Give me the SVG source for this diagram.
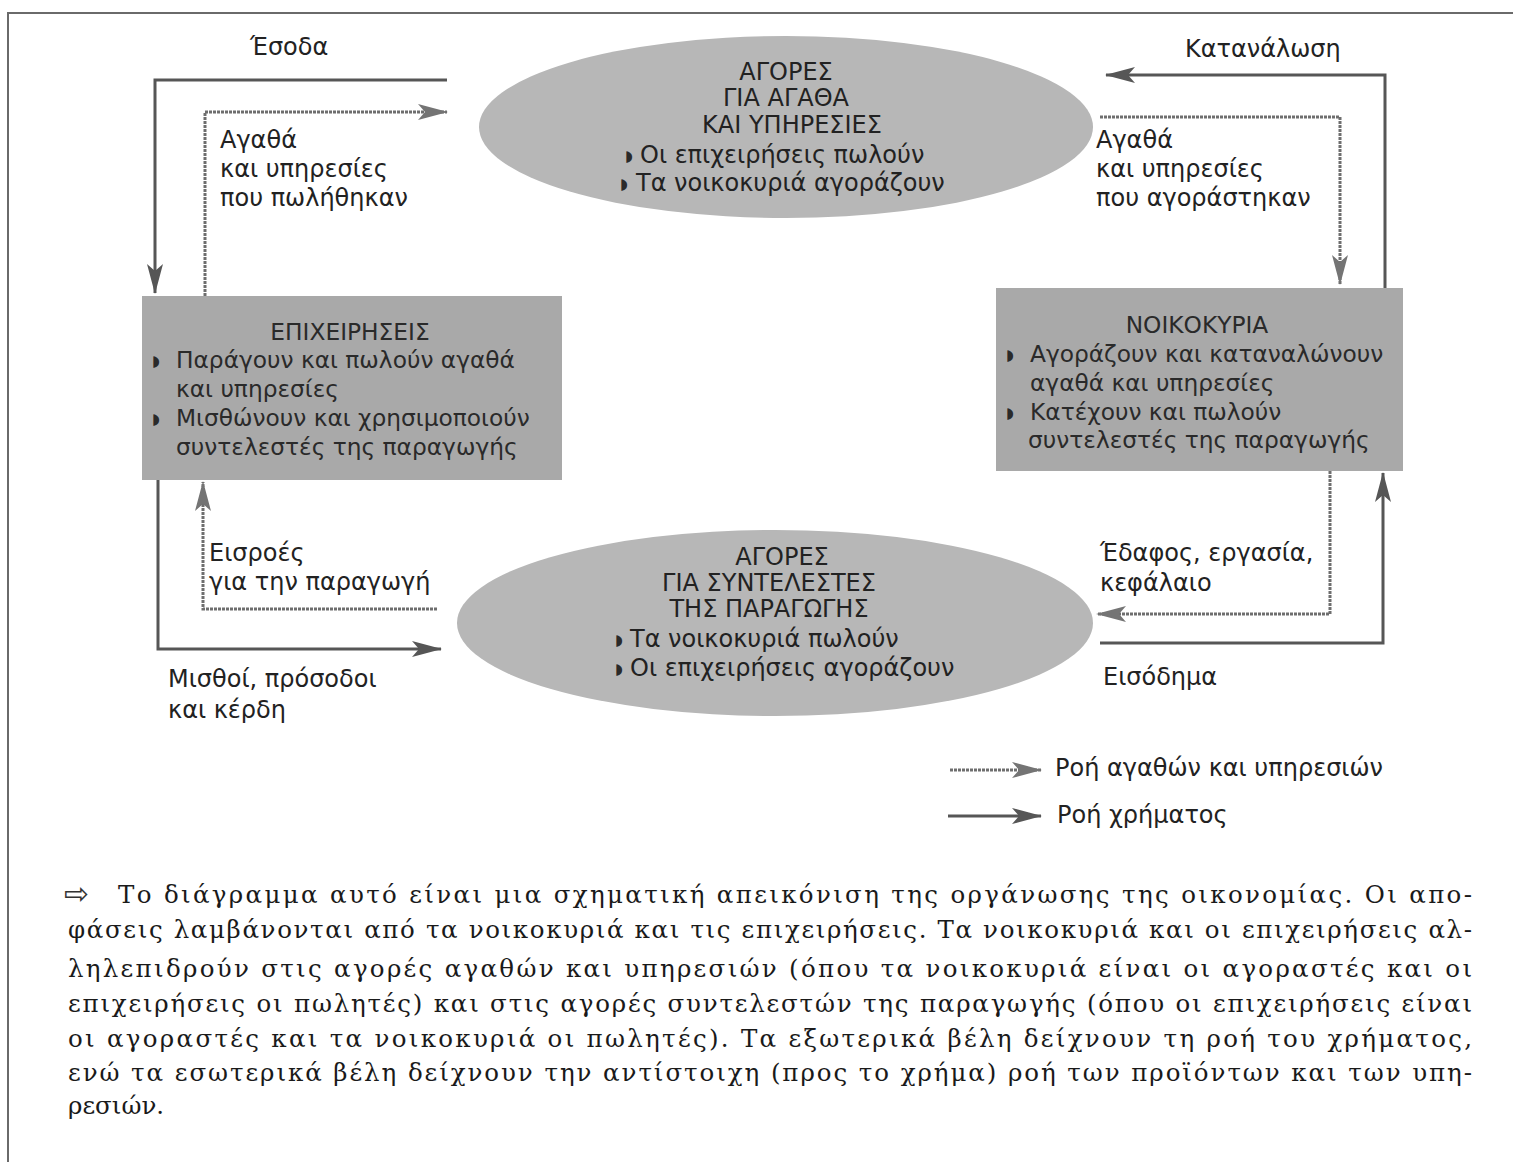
<svg xmlns="http://www.w3.org/2000/svg" width="1513" height="1162" viewBox="0 0 1513 1162">
<defs>
<marker id="mArrow" markerUnits="userSpaceOnUse" viewBox="0 0 30 16" refX="29" refY="8" markerWidth="30" markerHeight="16" orient="auto">
<path d="M0,0 L30,8 L0,16 L7,8 z" fill="#565656"/>
</marker>
<marker id="gArrow" markerUnits="userSpaceOnUse" viewBox="0 0 30 16" refX="29" refY="8" markerWidth="30" markerHeight="16" orient="auto">
<path d="M0,0 L30,8 L0,16 L7,8 z" fill="#747474"/>
</marker>
</defs>
<style>
.t{font-family:"DejaVu Sans","Liberation Sans",sans-serif;font-size:24px;fill:#222}
.e{font-family:"DejaVu Sans","Liberation Sans",sans-serif;font-size:24px;fill:#222}
.b{font-family:"DejaVu Sans","Liberation Sans",sans-serif;font-size:23.3px;fill:#2a2a2a}
.bul{font-family:"DejaVu Sans",sans-serif;font-size:15px;fill:#2a2a2a}
.cap{font-family:"DejaVu Serif","Liberation Serif",serif;font-size:24.5px;fill:#1a1a1a}
.money{fill:none;stroke:#565656;stroke-width:3;marker-end:url(#mArrow)}
.goods{fill:none;stroke:#6e6e6e;stroke-width:3;stroke-dasharray:3 1;marker-end:url(#gArrow)}
.ell{fill:#b7b7b7}
.box{fill:#a9a9a9}
</style>
<rect width="1513" height="1162" fill="#ffffff"/>
<path d="M8,1162 V13 H1513" fill="none" stroke="#6a6a6a" stroke-width="2"/>

<g id="markets-goods">
<ellipse class="ell" cx="786" cy="127" rx="307" ry="91"/>
<text class="e" x="786" y="80" text-anchor="middle">ΑΓΟΡΕΣ</text>
<text class="e" x="786" y="106" text-anchor="middle">ΓΙΑ ΑΓΑΘΑ</text>
<text class="e" x="792" y="133" text-anchor="middle">ΚΑΙ ΥΠΗΡΕΣΙΕΣ</text>
<text class="bul" x="625" y="161">◗</text>
<text class="e" x="640" y="163">Οι επιχειρήσεις πωλούν</text>
<text class="bul" x="620" y="189">◗</text>
<text class="e" x="636" y="191">Τα νοικοκυριά αγοράζουν</text>
</g>

<g id="firms">
<rect class="box" x="142" y="296" width="420" height="184"/>
<text class="b" x="350" y="340" text-anchor="middle">ΕΠΙΧΕΙΡΗΣΕΙΣ</text>
<text class="bul" x="152" y="366">◗</text>
<text class="b" x="176" y="368">Παράγουν και πωλούν αγαθά</text>
<text class="b" x="176" y="397">και υπηρεσίες</text>
<text class="bul" x="152" y="424">◗</text>
<text class="b" x="176" y="426">Μισθώνουν και χρησιμοποιούν</text>
<text class="b" x="176" y="455">συντελεστές της παραγωγής</text>
</g>

<g id="households">
<rect class="box" x="996" y="288" width="407" height="183"/>
<text class="b" x="1197" y="333" text-anchor="middle">ΝΟΙΚΟΚΥΡΙΑ</text>
<text class="bul" x="1006" y="360">◗</text>
<text class="b" x="1030" y="362">Αγοράζουν και καταναλώνουν</text>
<text class="b" x="1030" y="391">αγαθά και υπηρεσίες</text>
<text class="bul" x="1006" y="418">◗</text>
<text class="b" x="1030" y="420">Κατέχουν και πωλούν</text>
<text class="b" x="1028" y="448">συντελεστές της παραγωγής</text>
</g>

<g id="markets-factors">
<ellipse class="ell" cx="775" cy="623" rx="318" ry="93"/>
<text class="e" x="782" y="565" text-anchor="middle">ΑΓΟΡΕΣ</text>
<text class="e" x="769" y="591" text-anchor="middle">ΓΙΑ ΣΥΝΤΕΛΕΣΤΕΣ</text>
<text class="e" x="769" y="617" text-anchor="middle">ΤΗΣ ΠΑΡΑΓΩΓΗΣ</text>
<text class="bul" x="615" y="645">◗</text>
<text class="e" x="630" y="647">Τα νοικοκυριά πωλούν</text>
<text class="bul" x="615" y="674">◗</text>
<text class="e" x="630" y="676">Οι επιχειρήσεις αγοράζουν</text>
</g>

<g id="connectors">
<path class="money" d="M447,80 H155 V293"/>
<path class="goods" d="M205,296 V112 H447"/>
<path class="money" d="M1385,288 V75 H1106"/>
<path class="goods" d="M1100,117 H1340 V284"/>
<path class="goods" d="M437,609 H203 V482"/>
<path class="money" d="M158,480 V649 H441"/>
<path class="goods" d="M1330,471 V614 H1097"/>
<path class="money" d="M1100,643 H1383 V473"/>
<path class="goods" d="M950,770 H1041"/>
<path class="money" d="M948,816 H1041"/>
</g>

<g id="labels">
<text class="t" x="250" y="55">Έσοδα</text>
<text class="t" x="1185" y="57">Κατανάλωση</text>
<text class="t" x="220" y="148">Αγαθά</text>
<text class="t" x="220" y="177">και υπηρεσίες</text>
<text class="t" x="220" y="206">που πωλήθηκαν</text>
<text class="t" x="1096" y="148">Αγαθά</text>
<text class="t" x="1096" y="177">και υπηρεσίες</text>
<text class="t" x="1096" y="206">που αγοράστηκαν</text>
<text class="t" x="209" y="561">Εισροές</text>
<text class="t" x="209" y="590">για την παραγωγή</text>
<text class="t" x="168" y="687">Μισθοί, πρόσοδοι</text>
<text class="t" x="168" y="718">και κέρδη</text>
<text class="t" x="1100" y="561">Έδαφος, εργασία,</text>
<text class="t" x="1100" y="591">κεφάλαιο</text>
<text class="t" x="1103" y="685">Εισόδημα</text>
<text class="t" x="1055" y="776">Ροή αγαθών και υπηρεσιών</text>
<text class="t" x="1057" y="823">Ροή χρήματος</text>
</g>

<g id="caption">
<text x="64" y="904" style="font-family:'DejaVu Sans',sans-serif;font-size:30px;fill:#333">⇨</text>
<text class="cap" x="118" y="903" textLength="1354" lengthAdjust="spacing">Το διάγραμμα αυτό είναι μια σχηματική απεικόνιση της οργάνωσης της οικονομίας. Οι απο-</text>
<text class="cap" x="68" y="938" textLength="1404" lengthAdjust="spacing">φάσεις λαμβάνονται από τα νοικοκυριά και τις επιχειρήσεις. Τα νοικοκυριά και οι επιχειρήσεις αλ-</text>
<text class="cap" x="68" y="977" textLength="1404" lengthAdjust="spacing">ληλεπιδρούν στις αγορές αγαθών και υπηρεσιών (όπου τα νοικοκυριά είναι οι αγοραστές και οι</text>
<text class="cap" x="68" y="1012" textLength="1404" lengthAdjust="spacing">επιχειρήσεις οι πωλητές) και στις αγορές συντελεστών της παραγωγής (όπου οι επιχειρήσεις είναι</text>
<text class="cap" x="68" y="1047" textLength="1404" lengthAdjust="spacing">οι αγοραστές και τα νοικοκυριά οι πωλητές). Τα εξωτερικά βέλη δείχνουν τη ροή του χρήματος,</text>
<text class="cap" x="68" y="1081" textLength="1404" lengthAdjust="spacing">ενώ τα εσωτερικά βέλη δείχνουν την αντίστοιχη (προς το χρήμα) ροή των προϊόντων και των υπη-</text>
<text class="cap" x="68" y="1114">ρεσιών.</text>
</g>
</svg>
